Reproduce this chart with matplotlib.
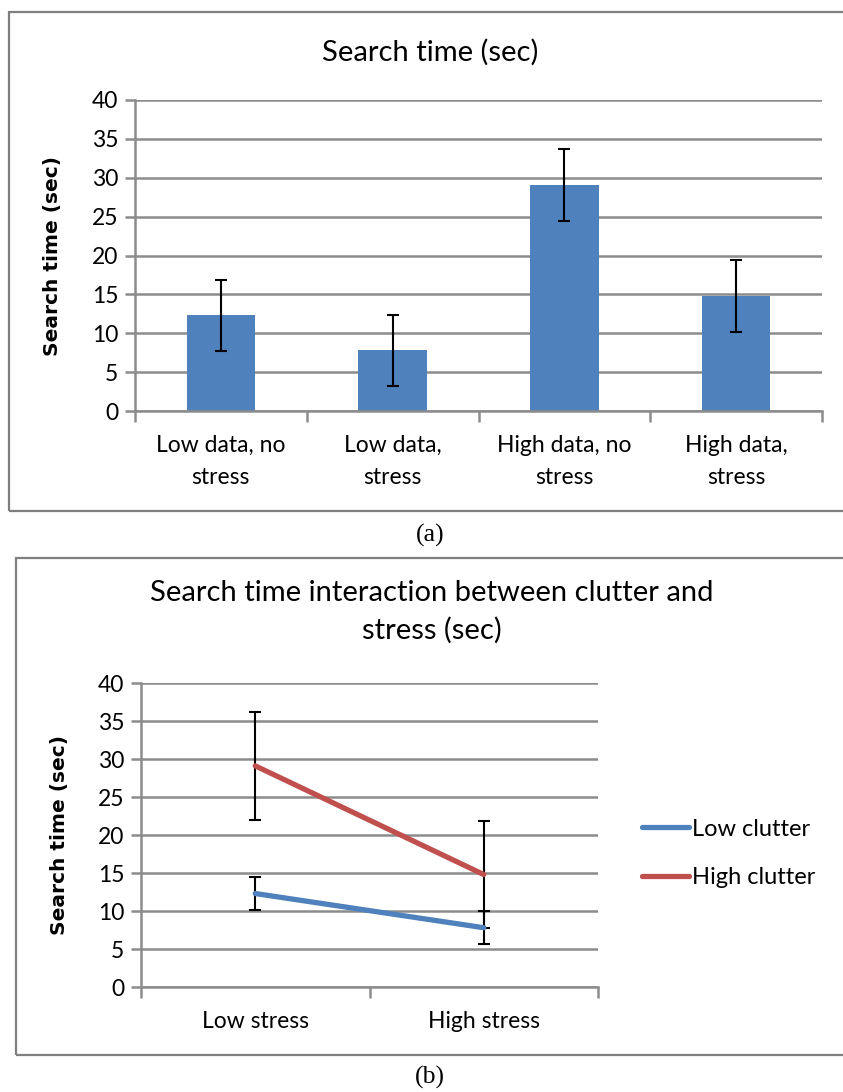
import matplotlib.pyplot as plt
from matplotlib.patches import Rectangle
from matplotlib.lines import Line2D

# bar chart data
conditions = ["Low data, no\nstress", "Low data,\nstress", "High data, no\nstress", "High data,\nstress"]
mean_time = [12.3, 7.8, 29.1, 14.8]
err_time = [4.6, 4.6, 4.6, 4.6]

# interaction data
stress_levels = ["Low stress", "High stress"]
low_clutter = [12.3, 7.8]
high_clutter = [29.1, 14.8]
low_clutter_err = [2.2, 2.2]
high_clutter_err = [7.1, 7.1]

BLUE = "#4F81BD"
RED = "#C0504D"
GRID = "#8c8c8c"
W, H = 843, 1092

plt.rcParams['font.family'] = ['Lato', 'DejaVu Sans']

fig = plt.figure(figsize=(W / 100, H / 100), dpi=100)


def px_axes(l, t, r, b):
    return fig.add_axes([l / W, 1 - b / H, (r - l) / W, (b - t) / H])


def style(ax, ncat):
    ax.set_ylim(0, 40)
    ax.set_yticks(range(0, 41, 5))
    ax.set_xlim(-0.5, ncat - 0.5)
    ax.yaxis.grid(True, color=GRID, lw=1.8)
    ax.set_axisbelow(True)
    for s in ["top", "right"]:
        ax.spines[s].set_visible(False)
    for s in ["left", "bottom"]:
        ax.spines[s].set_color(GRID)
        ax.spines[s].set_linewidth(1.8)
    ax.tick_params(axis="y", length=7, width=1.8, color=GRID, labelsize=16.5, pad=5)
    ax.tick_params(axis="x", which="major", length=0, labelsize=16.5, pad=17)
    ax.set_xticks([i - 0.5 for i in range(ncat + 1)], minor=True)
    ax.tick_params(axis="x", which="minor", length=8, width=1.8, color=GRID)
    ax.set_ylabel("Search time (sec)", fontsize=14.5, fontweight="bold",
                  family="DejaVu Sans")


def border(l, t, r, b):
    fig.patches.append(Rectangle((l / W, 1 - b / H), (r - l) / W, (b - t) / H,
                                 transform=fig.transFigure, fill=False,
                                 ec="#7f7f7f", lw=1.6))


# (a) bar chart
border(9, 12, 850, 511)
ax1 = px_axes(135, 100, 822, 411)
style(ax1, len(conditions))
x = range(len(conditions))
ax1.bar(x, mean_time, width=0.4, color=BLUE, zorder=2)
ax1.errorbar(x, mean_time, yerr=err_time, fmt="none", ecolor="black",
             elinewidth=1.5, capsize=4, capthick=1.5, zorder=3)
ax1.set_xticks(list(x))
ax1.set_xticklabels(conditions, linespacing=1.65)
ax1.yaxis.set_label_coords((62 - 135) / 687, 0.5)
ax1.set_title("Search time (sec)", fontsize=21, pad=28, x=(430 - 135) / 687)

# (b) interaction line chart
border(16, 558, 850, 1055)
ax2 = px_axes(141, 683, 598, 987)
style(ax2, len(stress_levels))
xs = range(len(stress_levels))
ax2.errorbar(xs, low_clutter, yerr=low_clutter_err, color=BLUE, lw=3.8,
             ecolor="black", elinewidth=1.5, capsize=4, capthick=1.5,
             solid_capstyle="round", zorder=3)
ax2.errorbar(xs, high_clutter, yerr=high_clutter_err, color=RED, lw=3.8,
             ecolor="black", elinewidth=1.5, capsize=4, capthick=1.5,
             solid_capstyle="round", zorder=3)
ax2.set_xticks(list(xs))
ax2.set_xticklabels(stress_levels)
ax2.tick_params(axis="x", which="major", pad=17)
ax2.yaxis.set_label_coords((69 - 141) / 457, 0.5)
ax2.set_title("Search time interaction between clutter and\nstress (sec)",
              fontsize=21, pad=32, linespacing=1.5, x=(432 - 141) / 457)
handles = [Line2D([], [], color=BLUE, lw=3.8, solid_capstyle="round"),
           Line2D([], [], color=RED, lw=3.8, solid_capstyle="round")]
ax2.legend(handles, ["Low clutter", "High clutter"], loc="center left",
           bbox_to_anchor=(1.05, 0.44), frameon=False, fontsize=17,
           handlelength=2.0, handletextpad=0.1, labelspacing=1.15)

# captions
fig.text(430 / W, 1 - 535 / H, "(a)", ha="center", va="center",
         family="Liberation Serif", fontsize=18.5)
fig.text(430 / W, 1 - 1077 / H, "(b)", ha="center", va="center",
         family="Liberation Serif", fontsize=18.5)

fig.savefig("out.png", dpi=100)
